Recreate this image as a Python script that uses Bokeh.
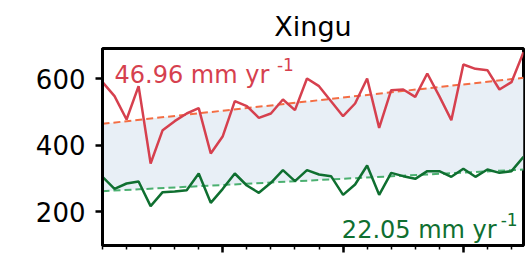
from bokeh.plotting import figure
from bokeh.models import FixedTicker, Label, Range1d
from bokeh.embed import file_html
from bokeh.resources import INLINE

years = list(range(1981, 2017))
upper = [589, 547, 477, 577, 345, 445, 472, 495, 511, 375, 427, 532, 517, 482, 495, 537, 505, 600,
         577, 532, 487, 525, 600, 452, 565, 567, 545, 615, 547, 475, 642, 629, 625, 567, 589, 679]
lower = [305, 269, 285, 291, 217, 259, 261, 265, 315, 227, 269, 315, 279, 257, 287, 325, 292, 325,
         312, 307, 251, 282, 339, 251, 317, 307, 299, 322, 322, 305, 329, 305, 327, 317, 322, 365]
trend_x = [1981, 2016]
upper_trend = [464, 602]
lower_trend = [262, 327]
y_ticks = [200, 400, 600]
x_major = [1991, 2001, 2011]
x_minor = list(range(1981, 2017, 2))
upper_label = "46.96 mm yr"
lower_label = "22.05 mm yr"
sup_label = "-1"

FONT = "DejaVu Sans"
RED = "#d6404e"
GREEN = "#0f6f30"

p = figure(width=528, height=257, output_backend="svg", toolbar_location=None,
           x_range=Range1d(1981, 2016), y_range=Range1d(99, 690),
           min_border_left=102, min_border_right=5, min_border_top=48, min_border_bottom=12,
           title="Xingu")
p.title.align = "center"
p.title.text_font = FONT
p.title.text_font_size = "27px"
p.title.text_font_style = "normal"
p.title.text_color = "black"
p.title.standoff = 14

p.xgrid.visible = False
p.ygrid.visible = False
p.outline_line_color = "black"
p.outline_line_width = 3
p.outline_line_alpha = 1

p.varea(x=trend_x, y1=lower_trend, y2=upper_trend, fill_color="#e8eff6")
p.line(trend_x, upper_trend, line_color="#f46d43", line_width=2, line_dash="7 4")
p.line(trend_x, lower_trend, line_color="#4bb070", line_width=2, line_dash="7 4")
p.line(years, upper, line_color=RED, line_width=2.5)
p.line(years, lower, line_color=GREEN, line_width=2.5)

p.add_layout(Label(x=1982.0, y=612, text=upper_label, text_font=FONT, text_font_size="24px",
                   text_color=RED, text_baseline="alphabetic"))
p.add_layout(Label(x=1995.5, y=642, text=sup_label, text_font=FONT, text_font_size="17px",
                   text_color=RED, text_baseline="alphabetic"))
p.add_layout(Label(x=2000.9, y=147, text=lower_label, text_font=FONT, text_font_size="24px",
                   text_color=GREEN, text_baseline="alphabetic"))
p.add_layout(Label(x=2014.1, y=177, text=sup_label, text_font=FONT, text_font_size="17px",
                   text_color=GREEN, text_baseline="alphabetic"))

p.xaxis.ticker = FixedTicker(ticks=x_major, minor_ticks=x_minor)
p.yaxis.ticker = FixedTicker(ticks=y_ticks)
for ax in (p.xaxis, p.yaxis):
    ax.axis_line_width = 3
    ax.axis_line_color = "black"
    ax.major_tick_line_width = 2.5
    ax.major_tick_out = 7
    ax.major_tick_in = 0
    ax.minor_tick_line_width = 1.5
    ax.minor_tick_out = 4
    ax.minor_tick_in = 0
    ax.major_label_text_font = FONT
    ax.major_label_text_font_size = "26px"
    ax.major_label_text_color = "black"
p.yaxis.minor_tick_line_color = None
p.yaxis.major_label_standoff = 10
p.xaxis.major_label_overrides = {t: "" for t in x_major}
p.xaxis.major_label_standoff = 0

open("out.html", "w").write(file_html(p, INLINE))
